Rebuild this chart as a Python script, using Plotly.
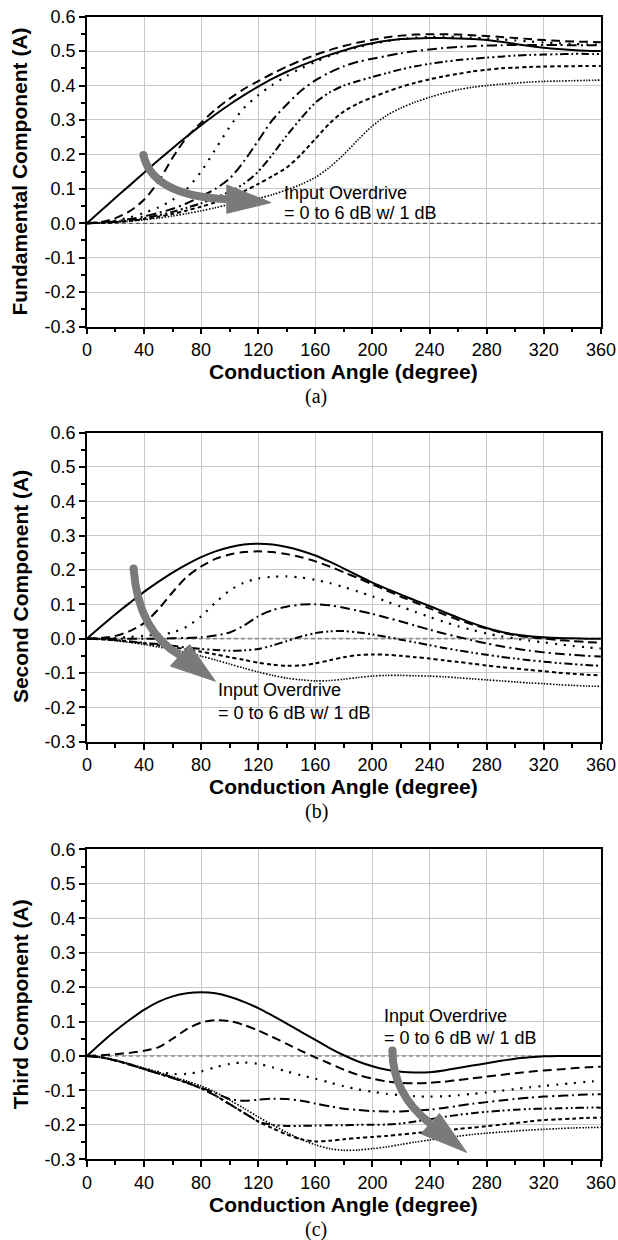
import plotly.graph_objects as go

# ---------------- data ----------------
angles = list(range(0, 361, 10))
x_ticks = [0, 40, 80, 120, 160, 200, 240, 280, 320, 360]
y_tick_vals = [-0.3, -0.2, -0.1, 0.0, 0.1, 0.2, 0.3, 0.4, 0.5, 0.6]
y_tick_text = ["-0.3", "-0.2", "-0.1", "0.0", "0.1", "0.2", "0.3", "0.4", "0.5", "0.6"]
overdrive_labels = ["0 dB", "1 dB", "2 dB", "3 dB", "4 dB", "5 dB", "6 dB"]
x_range = [0, 360]
zero_level = [0, 0]

fund_0db = [0, 0.037, 0.074, 0.11, 0.147, 0.183, 0.218, 0.252, 0.285, 0.316, 0.345, 0.372, 0.397, 0.42, 0.44, 0.458, 0.474, 0.489, 0.502, 0.514, 0.523, 0.53, 0.535, 0.537, 0.538, 0.538, 0.537, 0.535, 0.532, 0.527, 0.521, 0.515, 0.51, 0.506, 0.503, 0.501, 0.5]
fund_1db = [0, 0.004, 0.015, 0.035, 0.068, 0.12, 0.19, 0.25, 0.292, 0.33, 0.362, 0.39, 0.413, 0.435, 0.455, 0.473, 0.489, 0.503, 0.515, 0.525, 0.533, 0.54, 0.545, 0.548, 0.549, 0.549, 0.548, 0.546, 0.544, 0.541, 0.538, 0.535, 0.532, 0.53, 0.528, 0.527, 0.526]
fund_2db = [0, 0.002, 0.008, 0.017, 0.03, 0.046, 0.068, 0.1, 0.15, 0.215, 0.28, 0.335, 0.372, 0.402, 0.428, 0.45, 0.469, 0.486, 0.5, 0.512, 0.521, 0.529, 0.535, 0.539, 0.541, 0.542, 0.541, 0.539, 0.537, 0.534, 0.531, 0.528, 0.525, 0.523, 0.521, 0.52, 0.519]
fund_3db = [0, 0.002, 0.006, 0.012, 0.02, 0.03, 0.042, 0.058, 0.078, 0.1, 0.13, 0.18, 0.24, 0.3, 0.345, 0.385, 0.415, 0.438, 0.456, 0.469, 0.478, 0.486, 0.494, 0.5, 0.505, 0.509, 0.512, 0.514, 0.516, 0.517, 0.518, 0.518, 0.518, 0.518, 0.517, 0.517, 0.517]
fund_4db = [0, 0.001, 0.004, 0.009, 0.015, 0.023, 0.033, 0.045, 0.058, 0.074, 0.092, 0.115, 0.15, 0.2, 0.255, 0.305, 0.35, 0.38, 0.4, 0.413, 0.425, 0.436, 0.447, 0.456, 0.463, 0.469, 0.474, 0.478, 0.481, 0.484, 0.487, 0.489, 0.49, 0.491, 0.492, 0.492, 0.492]
fund_5db = [0, 0.001, 0.003, 0.007, 0.012, 0.019, 0.027, 0.037, 0.048, 0.061, 0.076, 0.093, 0.114, 0.137, 0.162, 0.2, 0.245, 0.29, 0.325, 0.348, 0.366, 0.382, 0.396, 0.408, 0.418, 0.427, 0.434, 0.441, 0.446, 0.45, 0.452, 0.454, 0.455, 0.456, 0.456, 0.457, 0.457]
fund_6db = [0, 0.001, 0.003, 0.006, 0.01, 0.015, 0.021, 0.028, 0.036, 0.045, 0.055, 0.063, 0.072, 0.083, 0.097, 0.113, 0.133, 0.163, 0.2, 0.243, 0.283, 0.313, 0.335, 0.352, 0.366, 0.378, 0.388, 0.395, 0.4, 0.404, 0.407, 0.41, 0.412, 0.413, 0.414, 0.415, 0.416]

sec_0db = [0, 0.036, 0.071, 0.104, 0.136, 0.165, 0.192, 0.216, 0.237, 0.254, 0.266, 0.274, 0.276, 0.274, 0.267, 0.256, 0.242, 0.224, 0.204, 0.183, 0.163, 0.145, 0.128, 0.111, 0.095, 0.078, 0.061, 0.045, 0.031, 0.02, 0.012, 0.007, 0.004, 0.002, 0.001, 0, 0]
sec_1db = [0, 0.002, 0.008, 0.022, 0.045, 0.085, 0.135, 0.18, 0.21, 0.232, 0.245, 0.252, 0.254, 0.252, 0.246, 0.237, 0.225, 0.21, 0.193, 0.176, 0.158, 0.14, 0.122, 0.105, 0.088, 0.071, 0.055, 0.041, 0.029, 0.018, 0.01, 0.004, 0.0, -0.004, -0.007, -0.01, -0.012]
sec_2db = [0, 0.0, 0.002, 0.005, 0.008, 0.012, 0.018, 0.035, 0.065, 0.105, 0.14, 0.163, 0.175, 0.18, 0.181, 0.178, 0.171, 0.162, 0.15, 0.137, 0.123, 0.108, 0.093, 0.078, 0.063, 0.049, 0.036, 0.025, 0.015, 0.007, 0.0, -0.006, -0.011, -0.016, -0.021, -0.025, -0.029]
sec_3db = [0, 0, 0, 0, 0, 0, 0.001, 0.002, 0.004, 0.009, 0.018, 0.038, 0.065, 0.083, 0.093, 0.099, 0.1, 0.097, 0.09, 0.081, 0.072, 0.061, 0.05, 0.038, 0.026, 0.015, 0.005, -0.005, -0.014, -0.022, -0.029, -0.035, -0.04, -0.044, -0.047, -0.05, -0.052]
sec_4db = [0, -0.001, -0.004, -0.008, -0.012, -0.016, -0.021, -0.026, -0.03, -0.033, -0.035, -0.034, -0.03, -0.02, -0.007, 0.006, 0.016, 0.021, 0.022, 0.018, 0.012, 0.005, -0.003, -0.011, -0.019, -0.027, -0.034, -0.041, -0.047, -0.053, -0.058, -0.063, -0.067, -0.071, -0.074, -0.077, -0.079]
sec_5db = [0, -0.002, -0.005, -0.009, -0.014, -0.019, -0.025, -0.031, -0.038, -0.046, -0.054, -0.062, -0.07, -0.076, -0.079, -0.078, -0.072, -0.063, -0.054, -0.048, -0.046, -0.047, -0.05, -0.054, -0.058, -0.063, -0.068, -0.073, -0.078, -0.083, -0.087, -0.091, -0.095, -0.099, -0.102, -0.105, -0.107]
sec_6db = [0, -0.002, -0.006, -0.011, -0.017, -0.024, -0.032, -0.041, -0.051, -0.062, -0.074, -0.086, -0.097, -0.107, -0.115, -0.12, -0.123, -0.122, -0.118, -0.113, -0.109, -0.107, -0.107, -0.108, -0.109, -0.111, -0.114, -0.117, -0.12, -0.123, -0.126, -0.129, -0.131, -0.134, -0.136, -0.138, -0.139]

third_0db = [0, 0.038, 0.073, 0.105, 0.134, 0.157, 0.173, 0.182, 0.185, 0.182, 0.172, 0.157, 0.139, 0.117, 0.094, 0.07, 0.047, 0.023, 0.002, -0.016, -0.03, -0.04, -0.046, -0.048, -0.047, -0.042, -0.035, -0.028, -0.021, -0.014, -0.008, -0.004, -0.001, 0, 0, 0, 0]
third_1db = [0, 0.002, 0.005, 0.009, 0.015, 0.025, 0.05, 0.078, 0.097, 0.104, 0.101, 0.09, 0.074, 0.055, 0.035, 0.015, -0.004, -0.022, -0.04, -0.055, -0.066, -0.074, -0.078, -0.079, -0.078, -0.075, -0.07, -0.065, -0.06, -0.055, -0.05, -0.046, -0.042, -0.039, -0.036, -0.033, -0.031]
third_2db = [0, -0.004, -0.013, -0.025, -0.037, -0.046, -0.052, -0.052, -0.045, -0.033, -0.023, -0.019, -0.023, -0.033, -0.045, -0.056, -0.066, -0.077, -0.088, -0.097, -0.104, -0.11, -0.114, -0.117, -0.118, -0.117, -0.114, -0.11, -0.106, -0.101, -0.096, -0.091, -0.087, -0.083, -0.079, -0.075, -0.072]
third_3db = [0, -0.004, -0.013, -0.025, -0.038, -0.05, -0.063, -0.077, -0.092, -0.108, -0.125, -0.13, -0.127, -0.124, -0.125, -0.13, -0.138, -0.146, -0.153, -0.157, -0.16, -0.161, -0.161, -0.159, -0.156, -0.151, -0.145, -0.139, -0.134, -0.129, -0.125, -0.121, -0.118, -0.116, -0.114, -0.112, -0.111]
third_4db = [0, -0.004, -0.013, -0.025, -0.038, -0.051, -0.064, -0.078, -0.094, -0.115, -0.14, -0.165, -0.19, -0.2, -0.203, -0.203, -0.202, -0.201, -0.201, -0.2, -0.2, -0.199, -0.196, -0.19, -0.184, -0.177, -0.171, -0.166, -0.162, -0.159, -0.156, -0.154, -0.153, -0.152, -0.151, -0.15, -0.15]
third_5db = [0, -0.004, -0.013, -0.025, -0.038, -0.051, -0.064, -0.078, -0.094, -0.115, -0.14, -0.165, -0.19, -0.21, -0.228, -0.242, -0.248, -0.246, -0.242, -0.238, -0.235, -0.232, -0.228, -0.224, -0.22, -0.216, -0.212, -0.208, -0.204, -0.199, -0.195, -0.19, -0.186, -0.184, -0.182, -0.18, -0.179]
third_6db = [0, -0.004, -0.012, -0.023, -0.035, -0.047, -0.06, -0.073, -0.087, -0.105, -0.128, -0.152, -0.177, -0.2, -0.222, -0.242, -0.258, -0.269, -0.274, -0.273, -0.269, -0.264, -0.257, -0.25, -0.244, -0.238, -0.233, -0.228, -0.224, -0.221, -0.218, -0.215, -0.213, -0.211, -0.209, -0.208, -0.207]

panel_titles = ["Fundamental Component (A)", "Second Component (A)", "Third Component (A)"]
panel_tags = ["(a)", "(b)", "(c)"]
x_title = "Conduction Angle (degree)"
note_line1 = "Input Overdrive"
note_line2 = "= 0 to 6 dB w/ 1 dB"

# ---------------- styling ----------------
W, H = 618, 1240
dash_styles = ["solid", "9px,5px", "2px,7px", "10px,4px,2px,4px",
               "8px,3px,2px,3px,2px,3px", "4px,3px", "1.5px,1.5px"]
line_widths = [2, 2, 2.2, 2, 2, 2, 1.6]
SANS = "Liberation Sans, Arial, Helvetica, sans-serif"
SERIF = "Liberation Serif, Times New Roman, serif"
ARROW = "#7a7a7a"

plot_left, plot_right = 86.9, 600.9
panel_px = [(16.7, 326.5), (432.5, 741.7), (849.3, 1159.3)]

panels = [
    [fund_0db, fund_1db, fund_2db, fund_3db, fund_4db, fund_5db, fund_6db],
    [sec_0db, sec_1db, sec_2db, sec_3db, sec_4db, sec_5db, sec_6db],
    [third_0db, third_1db, third_2db, third_3db, third_4db, third_5db, third_6db],
]

fig = go.Figure()
layout = dict(
    width=W, height=H, margin=dict(l=0, r=0, t=0, b=0),
    paper_bgcolor="white", plot_bgcolor="white", showlegend=False,
    font=dict(family=SANS, color="black"),
    shapes=[], annotations=[],
)

def px_x(p):
    return p / W

def px_y(p):
    return 1 - p / H

for i, series in enumerate(panels):
    sfx = "" if i == 0 else str(i + 1)
    xa, ya = "x" + sfx, "y" + sfx
    top, bot = panel_px[i]
    # zero reference line (drawn first, below the curves)
    fig.add_trace(go.Scatter(
        x=x_range, y=zero_level, mode="lines", xaxis=xa, yaxis=ya,
        line=dict(color="#333333" if i == 0 else "#8c8c8c",
                  width=1.1 if i == 0 else 1.6, dash="4px,3px"),
        hoverinfo="skip"))
    for k, vals in enumerate(series):
        fig.add_trace(go.Scatter(
            x=angles, y=vals, mode="lines", name=overdrive_labels[k],
            xaxis=xa, yaxis=ya,
            line=dict(color="black", width=line_widths[k], dash=dash_styles[k],
                      shape="spline", smoothing=0.8),
            hoverinfo="skip"))
    axis_common = dict(
        showline=True, linecolor="black", linewidth=1.6, mirror=True,
        ticks="outside", ticklen=6, tickwidth=1.5, tickcolor="black",
        showgrid=True, gridcolor="#c8c8c8", gridwidth=1, zeroline=False,
        tickfont=dict(family=SANS, size=18, color="black"), automargin=False,
    )
    layout["xaxis" + sfx] = dict(
        axis_common, domain=[px_x(plot_left), px_x(plot_right)], anchor=ya,
        range=[0, 360], tickmode="array", tickvals=x_ticks,
        minor=dict(tickmode="linear", tick0=0, dtick=20, ticks="outside",
                   ticklen=4, tickwidth=1.5, tickcolor="black", showgrid=False),
    )
    layout["yaxis" + sfx] = dict(
        axis_common, domain=[px_y(bot), px_y(top)], anchor=xa,
        range=[-0.3, 0.6], tickmode="array", tickvals=y_tick_vals, ticktext=y_tick_text,
        minor=dict(tickmode="linear", tick0=-0.3, dtick=0.05, ticks="outside",
                   ticklen=4, tickwidth=1.5, tickcolor="black", showgrid=False),
    )
    # axis titles and tags
    layout["annotations"].append(dict(
        text="<b>" + x_title + "</b>", xref="paper", yref="paper",
        x=px_x((plot_left + plot_right) / 2), y=px_y(bot + 45),
        xanchor="center", yanchor="middle", showarrow=False,
        font=dict(family=SANS, size=21, color="black")))
    layout["annotations"].append(dict(
        text="<b>" + panel_titles[i] + "</b>", xref="paper", yref="paper",
        x=px_x(20), y=px_y((top + bot) / 2), textangle=-90,
        xanchor="center", yanchor="middle", showarrow=False,
        font=dict(family=SANS, size=21, color="black")))
    layout["annotations"].append(dict(
        text=panel_tags[i], xref="paper", yref="paper",
        x=px_x(316), y=px_y(bot + 70),
        xanchor="center", yanchor="middle", showarrow=False,
        font=dict(family=SERIF, size=20, color="black")))

# annotation text positions (data coords) and arrows for each panel
notes = [
    dict(x=136.5, y1=0.089, y2=0.029),
    dict(x=90.3, y1=-0.149, y2=-0.217),
    dict(x=206.6, y1=0.115, y2=0.052),
]
arrows = [
    dict(p0=(39.6, 0.198), c=(46, 0.08), p1=(98, 0.07),
         head=[(98, 0.111), (129, 0.06), (98, 0.029)]),
    dict(p0=(32.7, 0.204), c=(36, 0.02), p1=(65.25, -0.0485),
         head=[(58.5, -0.08), (90, -0.124), (72, -0.017)]),
    dict(p0=(214, 0.016), c=(214, -0.11), p1=(240.5, -0.1965),
         head=[(234, -0.226), (266, -0.28), (247, -0.167)]),
]
for i in range(3):
    sfx = "" if i == 0 else str(i + 1)
    xa, ya = "x" + sfx, "y" + sfx
    n = notes[i]
    for txt, yy in ((note_line1, n["y1"]), (note_line2, n["y2"])):
        layout["annotations"].append(dict(
            text=txt, xref=xa, yref=ya, x=n["x"], y=yy,
            xanchor="left", yanchor="middle", showarrow=False,
            font=dict(family=SANS, size=18, color="black")))
    a = arrows[i]
    (x0, y0), (cx, cy), (x1, y1) = a["p0"], a["c"], a["p1"]
    layout["shapes"].append(dict(
        type="path", xref=xa, yref=ya,
        path=f"M {x0},{y0} Q {cx},{cy} {x1},{y1}",
        line=dict(color=ARROW, width=8), layer="above"))
    h = a["head"]
    layout["shapes"].append(dict(
        type="path", xref=xa, yref=ya,
        path=f"M {h[0][0]},{h[0][1]} L {h[1][0]},{h[1][1]} L {h[2][0]},{h[2][1]} Z",
        fillcolor=ARROW, line=dict(color=ARROW, width=1), layer="above"))
    layout["shapes"].append(dict(
        type="circle", xref=xa, yref=ya, xsizemode="pixel", ysizemode="pixel",
        xanchor=x0, yanchor=y0, x0=-4, x1=4, y0=-4, y1=4,
        fillcolor=ARROW, line=dict(width=0), layer="above"))

fig.update_layout(**layout)
fig.write_html("out.html")
